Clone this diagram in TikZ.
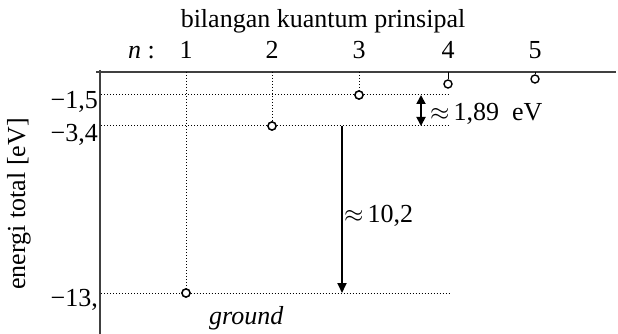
\documentclass[tikz,border=0pt]{standalone}
\usepackage{fontspec}
\setmainfont{Liberation Serif}
\usetikzlibrary{arrows.meta}
\begin{document}
\begin{tikzpicture}[x=1pt,y=-1pt,
  txt/.style={font=\fontsize{26}{28}\selectfont, inner sep=0pt},
  lvl/.style={circle, draw, line width=1.4pt, fill=white, minimum size=8pt, inner sep=0pt},
  dotl/.style={line width=1pt, dash pattern=on 1pt off 2pt},
  axis/.style={line width=1.1pt, black!75},
  arr/.style={line width=1.8pt, -{Triangle[length=10pt,width=9pt]}},
  darr/.style={line width=1.8pt, {Triangle[length=9pt,width=9pt]}-{Triangle[length=9pt,width=9pt]}}]
\useasboundingbox (0,0) rectangle (618,334);
% axes
\coordinate (xa0) at (96,72);
\coordinate (xa1) at (616,72);
\coordinate (ya0) at (100,70);
\coordinate (ya1) at (100,334);
\draw[axis] (xa0) -- (xa1);
\draw[axis] (ya0) -- (ya1);
% levels
\node[lvl] (c1) at (186,293) {};
\node[lvl] (c2) at (272,126) {};
\node[lvl] (c3) at (359,95) {};
\node[lvl] (c4) at (448,84) {};
\node[lvl] (c5) at (535,79) {};
\coordinate (t1) at (186,72);
\coordinate (t2) at (272,72);
\coordinate (t3) at (359,72);
\coordinate (t4) at (448,72);
\coordinate (t5) at (535,72);
\draw[dotl] (t1) -- (c1);
\draw[dotl] (t2) -- (c2);
\draw[dotl] (t3) -- (c3);
\draw[line width=1pt] (t4) -- (c4);
\draw[line width=1pt] (t5) -- (c5);
\coordinate (h1a) at (101,293); \coordinate (h1b) at (450,293);
\coordinate (h2a) at (101,126); \coordinate (h2b) at (450,126);
\coordinate (h3a) at (101,95);  \coordinate (h3b) at (450,95);
\draw[dotl] (h1a) -- (c1) -- (h1b);
\draw[dotl] (h2a) -- (c2) -- (h2b);
\draw[dotl] (h3a) -- (c3) -- (h3b);
\node[lvl] at (c1) {};
\node[lvl] at (c2) {};
\node[lvl] at (c3) {};
% arrows
\coordinate (a1) at (342,126); \coordinate (a2) at (342,293);
\draw[arr] (a1) -- (a2);
\coordinate (b1) at (421,95); \coordinate (b2) at (421,126);
\draw[darr] (b1) -- (b2);
% labels
\node[txt, anchor=base] (title) at (323,28) {bilangan kuantum prinsipal};
\node[txt, anchor=base east] (nl) at (155,59) {\textit{n} :};
\node[txt, anchor=base] (n1) at (186,59) {1};
\node[txt, anchor=base] (n2) at (272,59) {2};
\node[txt, anchor=base] (n3) at (359,59) {3};
\node[txt, anchor=base] (n4) at (448,59) {4};
\node[txt, anchor=base] (n5) at (535,59) {5};
\node[txt, anchor=base east] (e3) at (98,109) {−1,5};
\node[txt, anchor=base east] (e2) at (98,141) {−3,4};
\node[txt, anchor=base east] (e1) at (98,306) {−13,};
\node[txt, rotate=90] (ylab) at (19,204) {energi total [eV]};
\node[txt, anchor=base west] (d1) at (344,222) {$\approx$\hspace{4pt}10,2};
\node[txt, anchor=base west] (d2) at (430,121) {$\approx$\hspace{4pt}1,89\enspace eV};
\node[txt, anchor=base west] (gr) at (209,324) {\textit{ground}};
\end{tikzpicture}
\end{document}
